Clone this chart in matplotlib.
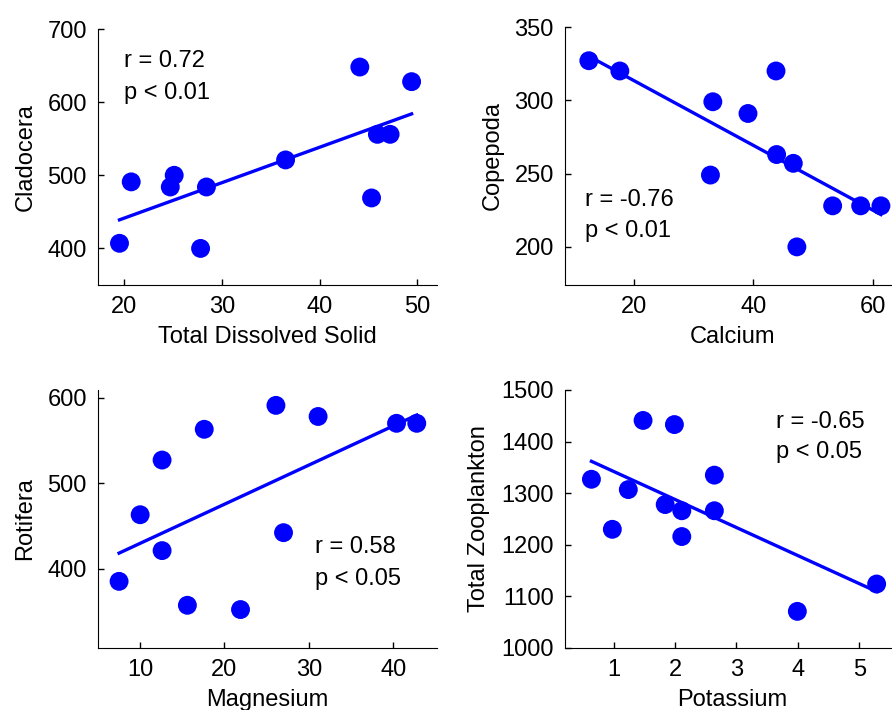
import numpy as np
import matplotlib
matplotlib.use("Agg")
import matplotlib.pyplot as plt

plt.rcParams['font.family'] = ['Liberation Sans', 'DejaVu Sans']

# Cladocera vs Total Dissolved Solid
tds = [19.5, 20.7, 24.7, 25.1, 27.8, 28.4, 36.5, 44.1, 45.3, 45.9, 47.2, 49.4]
cladocera = [407, 491, 484, 500, 400, 484, 521, 648, 469, 556, 556, 628]

# Copepoda vs Calcium
calcium = [12.4, 17.6, 33.2, 32.8, 39.1, 43.8, 43.9, 46.7, 47.3, 53.3, 58.0, 61.4]
copepoda = [327, 320, 299, 249, 291, 320, 263, 257, 200, 228, 228, 228]

# Rotifera vs Magnesium
magnesium = [7.5, 10.0, 12.6, 12.6, 15.6, 17.6, 21.9, 26.1, 27.0, 31.1, 40.4, 42.8]
rotifera = [385, 463, 527, 421, 357, 563, 352, 591, 442, 578, 570, 570]

# Total Zooplankton vs Potassium
potassium = [0.64, 0.98, 1.24, 1.48, 1.84, 1.99, 2.11, 2.11, 2.64, 2.64, 3.99, 5.28]
zooplankton = [1327, 1230, 1307, 1441, 1278, 1433, 1266, 1216, 1335, 1266, 1071, 1124]

W, H = 892, 710
fig = plt.figure(figsize=(W / 100, H / 100), dpi=100)


def add_ax(left, top, right, bottom):
    return fig.add_axes([left / W, 1 - bottom / H, (right - left) / W, (bottom - top) / H])


panels = [
    dict(box=(98, 29, 437, 285), x=tds, y=cladocera, xl="Total Dissolved Solid", yl="Cladocera",
         xlim=(17.3, 52), ylim=(350, 700), xt=[20, 30, 40, 50], yt=[400, 500, 600, 700],
         r="r = 0.72", p="p < 0.01", tx=20, ty=(656, 612)),
    dict(box=(565, 27, 900, 285), x=calcium, y=copepoda, xl="Calcium", yl="Copepoda",
         xlim=(8.4, 64.6), ylim=(174, 350), xt=[20, 40, 60], yt=[200, 250, 300, 350],
         r="r = -0.76", p="p < 0.01", tx=11.8, ty=(232, 210.6)),
    dict(box=(98, 390, 437, 648), x=magnesium, y=rotifera, xl="Magnesium", yl="Rotifera",
         xlim=(5, 45.2), ylim=(307, 609), xt=[10, 20, 30, 40], yt=[400, 500, 600],
         r="r = 0.58", p="p < 0.05", tx=30.7, ty=(425, 387.5)),
    dict(box=(565, 390, 900, 648), x=potassium, y=zooplankton, xl="Potassium", yl="Total Zooplankton",
         xlim=(0.21, 5.66), ylim=(1000, 1500), xt=[1, 2, 3, 4, 5], yt=[1000, 1100, 1200, 1300, 1400, 1500],
         r="r = -0.65", p="p < 0.05", tx=3.64, ty=(1438, 1380)),
]

for pn in panels:
    ax = add_ax(*pn["box"])
    x = np.array(pn["x"])
    y = np.array(pn["y"])
    ax.scatter(x, y, s=185, color="#0000ff", edgecolors="none", zorder=3, clip_on=False)
    k, b = np.polyfit(x, y, 1)
    xx = np.array([x.min(), x.max()])
    ax.plot(xx, k * xx + b, color="#0000ff", lw=2.4, zorder=2, clip_on=False)
    ax.set_xlim(*pn["xlim"])
    ax.set_ylim(*pn["ylim"])
    ax.set_xticks(pn["xt"])
    ax.set_yticks(pn["yt"])
    ax.spines["top"].set_visible(False)
    ax.spines["right"].set_visible(False)
    ax.tick_params(direction="in", length=4, width=1, labelsize=17, pad=8)
    ax.set_xlabel(pn["xl"], fontsize=17, labelpad=6)
    ax.set_ylabel(pn["yl"], fontsize=17, labelpad=8)
    ax.text(pn["tx"], pn["ty"][0], pn["r"], fontsize=17, va="center", ha="left")
    ax.text(pn["tx"], pn["ty"][1], pn["p"], fontsize=17, va="center", ha="left")

fig.savefig("out.png", dpi=100)
